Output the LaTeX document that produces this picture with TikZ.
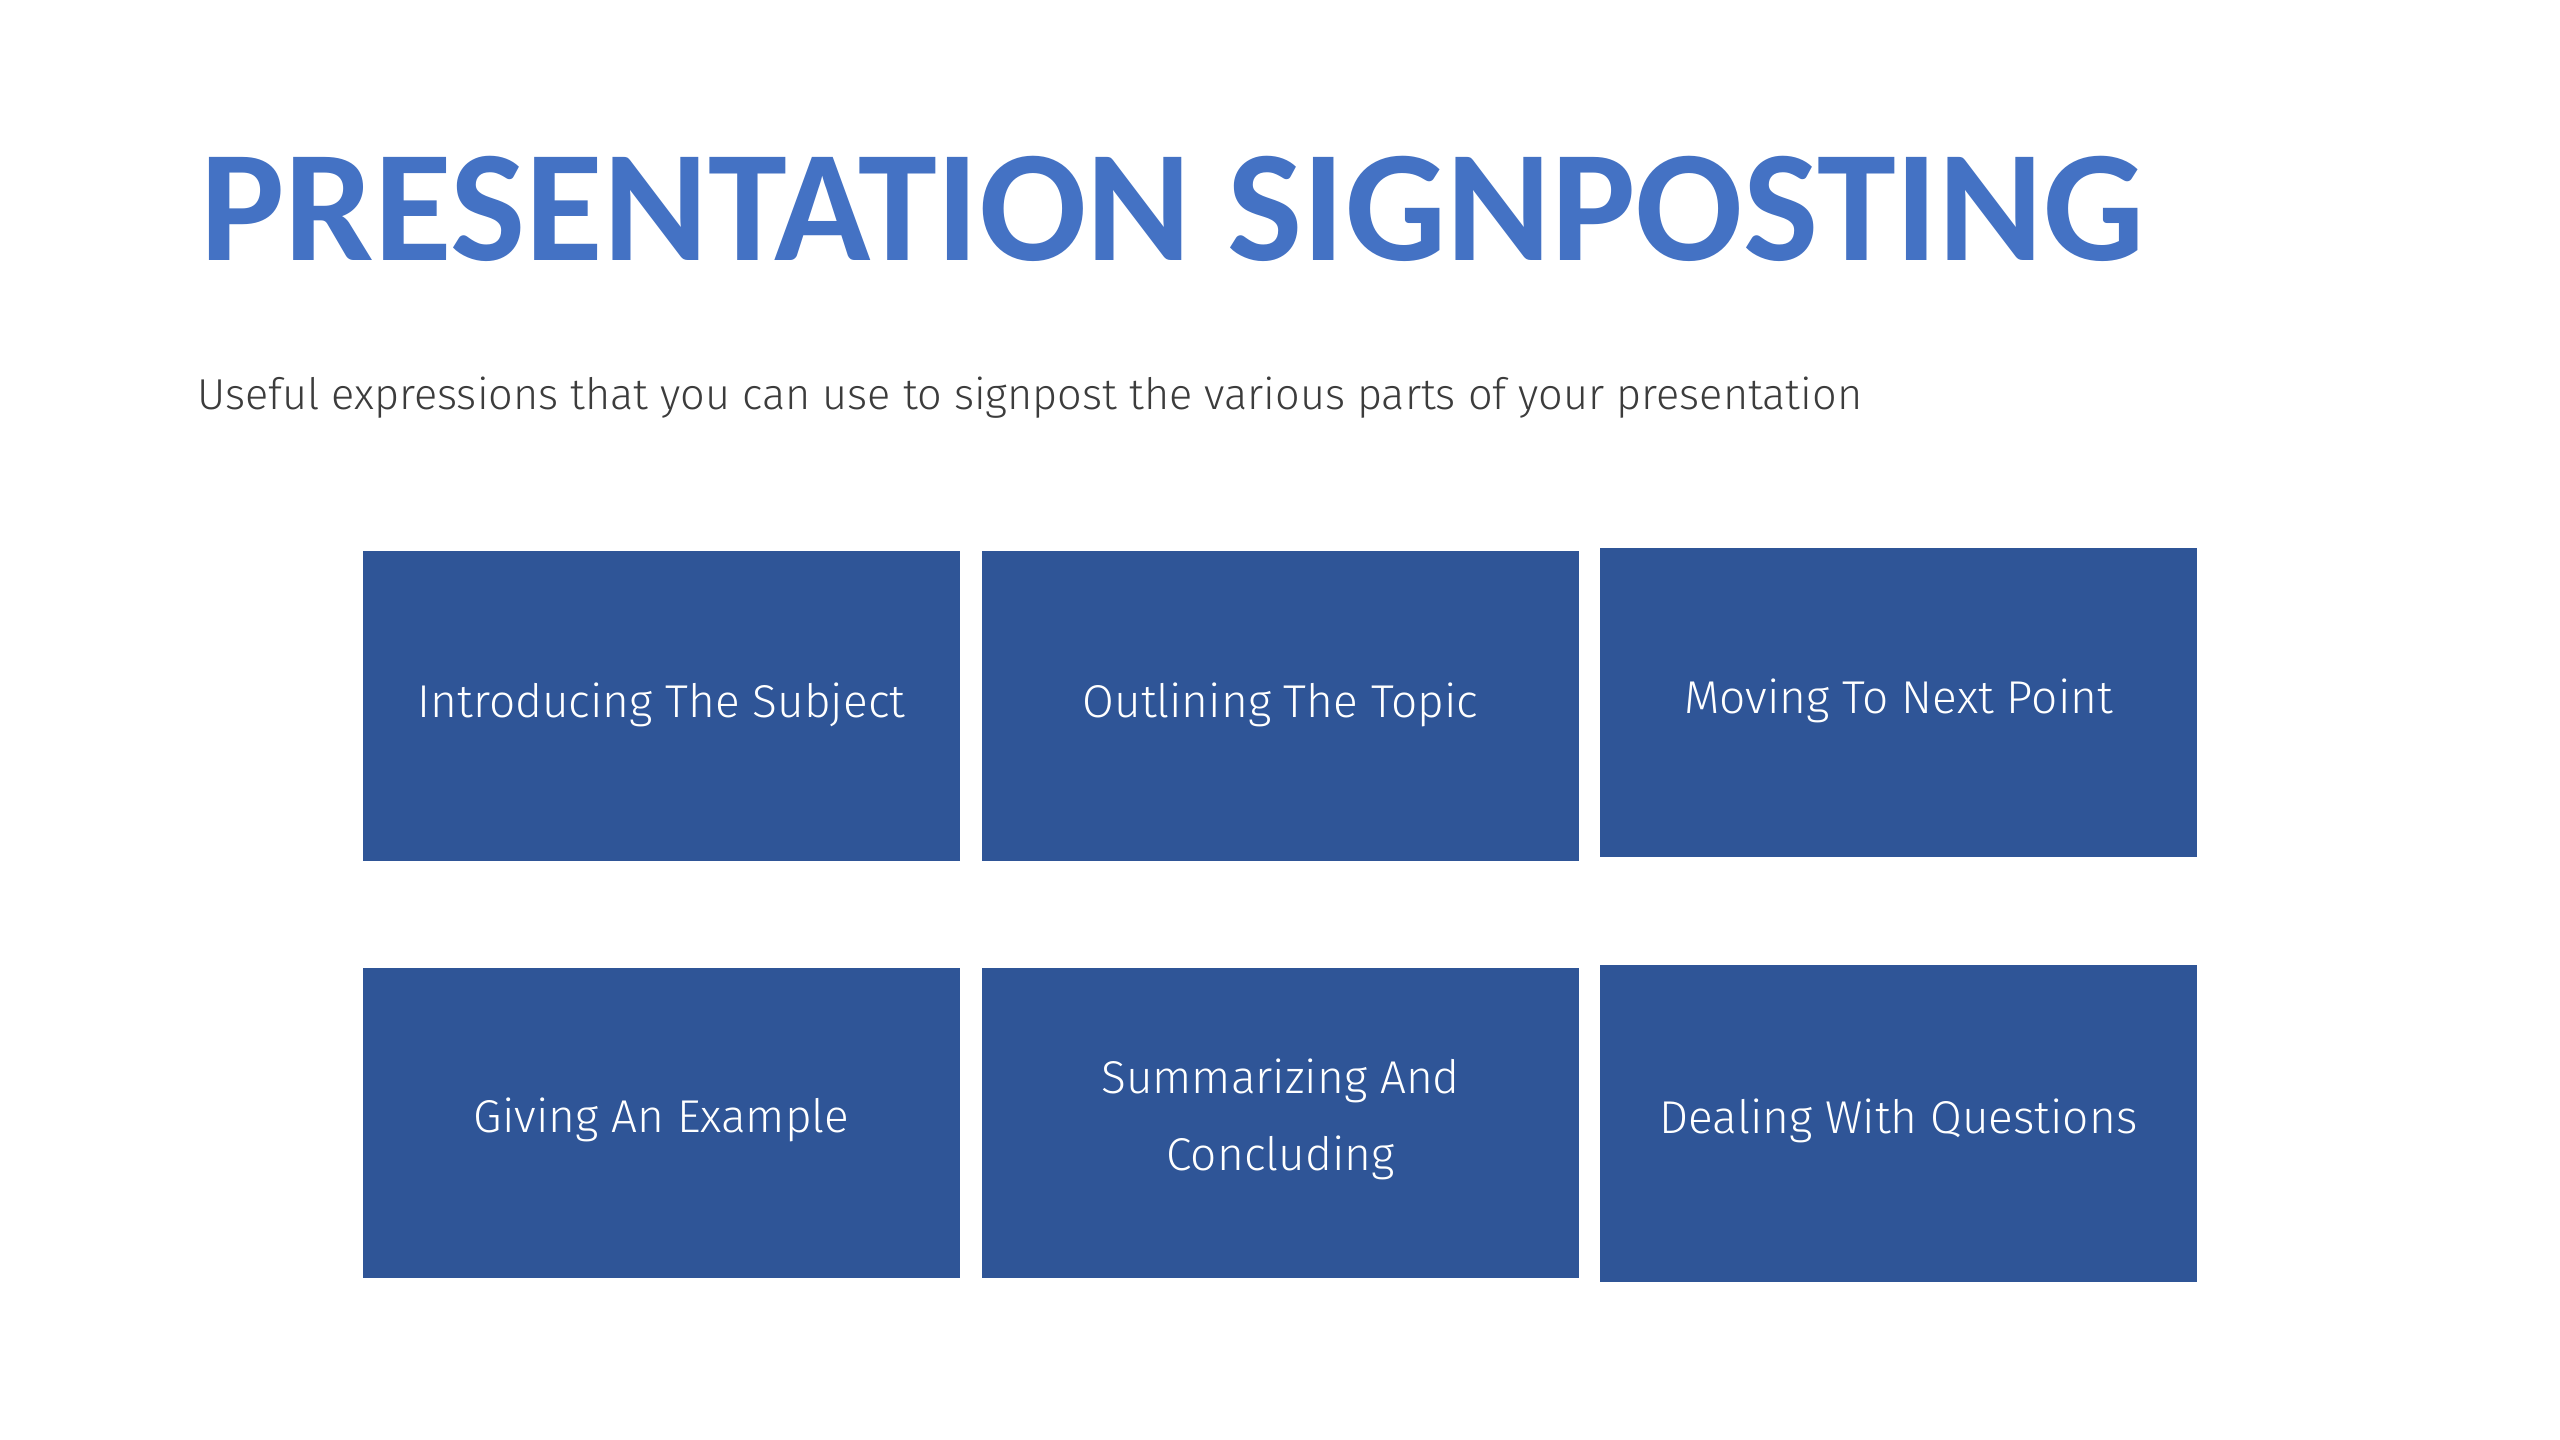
\documentclass[tikz,border=0pt]{standalone}
\usepackage{graphicx}
\usepackage{fontspec}
\setmainfont{Fira Sans}
\newfontfamily\titlefont{Carlito}
\newfontfamily\lightfont{Fira Sans Light}
\definecolor{titleblue}{HTML}{4472C4}
\definecolor{boxblue}{HTML}{2F5597}
\definecolor{subgray}{HTML}{3C3C3C}
\tikzset{
  card/.style={fill=boxblue, draw=none, minimum width=597pt, minimum height=310pt, inner sep=0pt},
  lbl/.style={text=white, font={\lightfont\fontsize{46}{54}\selectfont}, inner sep=0pt, anchor=base}
}
\begin{document}
\begin{tikzpicture}[x=1pt,y=-1pt]
\useasboundingbox[fill=white] (0,0) rectangle (2560,1440);
% title and subtitle
\node[anchor=base west, inner sep=0pt, text=titleblue] (title) at (200,260)
  {\resizebox{1942pt}{!}{\titlefont\bfseries PRESENTATION SIGNPOSTING}};
\node[anchor=base west, inner sep=0pt, text=subgray] (sub) at (197,409)
  {\resizebox{1665pt}{!}{\lightfont\fontsize{40}{48}\selectfont Useful expressions that you can use to signpost the various parts of your presentation}};
% boxes
\node[card] (b1) at (661.5,706) {};
\node[card] (b2) at (1280.5,706) {};
\node[card, minimum height=309pt] (b3) at (1898.5,702.5) {};
\node[card] (b4) at (661.5,1123) {};
\node[card] (b5) at (1280.5,1123) {};
\node[card, minimum height=317pt] (b6) at (1898.5,1123.5) {};
% labels
\node[lbl] (t1) at ([yshift=-11pt]b1.center) {Introducing The Subject};
\node[lbl] (t2) at ([yshift=-11pt]b2.center) {Outlining The Topic};
\node[lbl] (t3) at ([yshift=-10.5pt]b3.center) {Moving To Next Point};
\node[lbl] (t4) at ([yshift=-9pt]b4.center) {Giving An Example};
\node[lbl] (t5a) at ([yshift=30pt]b5.center) {Summarizing And};
\node[lbl] (t5b) at ([yshift=-47pt]b5.center) {Concluding};
\node[lbl] (t6) at ([yshift=-9.5pt]b6.center) {Dealing With Questions};
\end{tikzpicture}
\end{document}
